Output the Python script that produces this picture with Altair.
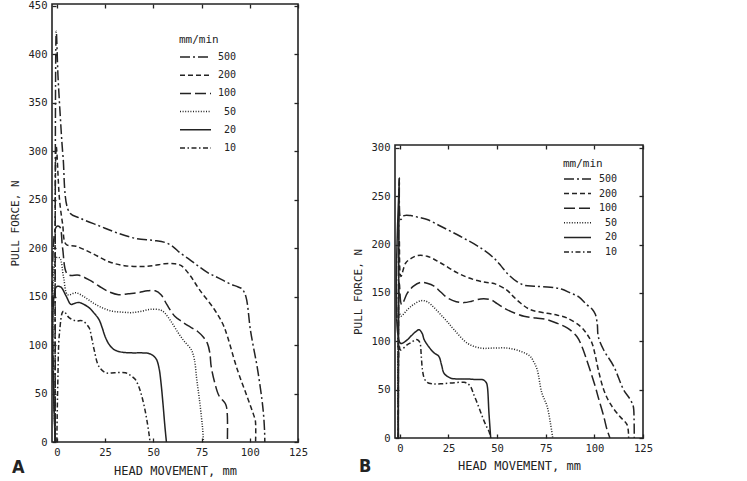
import altair as alt
import pandas as pd

speeds = ["500", "200", "100", "50", "20", "10"]
dashes = [[10, 3, 2, 3], [5, 3], [11, 4], [1, 1.6], [1, 0], [5, 2.5, 1.5, 2.5]]
x_ticks = [0, 25, 50, 75, 100, 125]
a_y_ticks = [0, 50, 100, 150, 200, 250, 300, 350, 400, 450]
b_y_ticks = [0, 50, 100, 150, 200, 250, 300]

# ---------------- Panel A ----------------
a_x = {
    "500": [-0.8, -0.3, 0.6, 1.8, 3.2, 6.5, 12, 22, 31, 41, 50, 56, 60, 64, 69, 73, 78, 82, 86, 90, 94, 96, 98, 100.3, 102, 103.8, 106.3, 107.2, 107.7, 107.8],
    "200": [-0.8, -0.3, 1.4, 3, 4.8, 10, 18, 27, 35, 44, 50, 56, 61, 64.5, 69, 74, 81.6, 86, 88.4, 93.5, 98.6, 102, 102.9, 103],
    "100": [-0.8, -0.3, 1.5, 3, 5.6, 11.6, 17, 21.8, 27, 32, 37, 42, 47, 51, 54, 57, 61, 65, 68, 73, 76, 78, 79.3, 80, 82, 84, 87.5, 88.3, 88.4],
    "50": [-0.8, -0.3, 1.5, 3.5, 5.6, 9.9, 14, 18.4, 23, 28.7, 34, 38.9, 44, 49, 54, 56, 59, 62.8, 66, 69.6, 71.3, 72.5, 73.9, 75, 75.6, 76],
    "20": [-0.8, -0.3, 2, 4.8, 7.3, 9, 11.6, 14, 16.7, 19.3, 21.8, 23.5, 25, 27, 29.5, 33, 38.9, 44, 47.4, 50, 51.7, 53, 54, 55, 56, 56.8],
    "10": [0, 0.5, 1.4, 3.4, 6.5, 10, 13.3, 16.7, 18, 19.3, 21.8, 25.3, 30, 35.5, 38, 40.6, 42.5, 44, 45.5, 46.6, 47.8, 48.3],
}
a_y = {
    "500": [0, 424, 378, 336, 295, 237, 231, 223, 216, 210, 208, 206, 202, 195, 188, 182, 175, 171, 167, 163, 160, 158, 150, 116, 97, 78, 44, 27, 10, 0],
    "200": [0, 305, 250, 225, 204, 202, 195, 186, 182, 181, 182, 184, 184, 182, 172, 157, 137, 122, 109, 75, 47, 28, 22, 0],
    "100": [0, 222, 222, 200, 173, 172, 167, 161, 155, 152, 153, 154, 156, 156, 152, 142, 130, 124, 120, 114, 108, 102, 92, 78, 60, 48, 39, 30, 0],
    "50": [0, 190, 190, 170, 152, 154, 150, 144, 139, 135, 134, 133.5, 135, 137, 136, 133, 125, 113, 104, 95.6, 85, 65, 44, 25, 13, 0],
    "20": [0, 160, 160, 150.7, 142, 143, 144, 142, 138.6, 133, 126.6, 118, 109, 101, 95.6, 93, 92, 92, 91.5, 89, 85, 76, 61, 40, 16.5, 0],
    "10": [0, 60, 113, 135, 128, 125, 125, 118, 108, 95.6, 78, 71.5, 71.5, 71.5, 69, 64.7, 57, 47.5, 35, 23.4, 8, 0],
}

# ---------------- Panel B ----------------
b_x = {
    "500": [-0.8, -0.3, 0.5, 2.2, 5.6, 10, 14, 21, 31, 41.5, 48.4, 52, 55, 60, 64, 69, 77.4, 83, 87.7, 92, 96, 99, 100.5, 101.5, 102, 104.8, 110, 115, 118.5, 120, 120.4, 120.5],
    "200": [-0.8, -0.3, 0.5, 3, 6, 9, 14, 21, 29.6, 38, 44, 48.4, 55, 58, 62, 67, 75.7, 81, 86, 92.8, 96, 98.8, 100.5, 102, 104.8, 108, 113, 116.8, 117.6],
    "100": [-0.8, -0.3, 0.9, 3.9, 7, 10.8, 14, 17.6, 21, 24.4, 29, 33, 37, 41.5, 46.7, 50, 55, 63.8, 70, 75.7, 81, 86, 91, 93.5, 96, 100.5, 102, 104.8, 106.5, 108],
    "50": [-0.8, -0.3, 0.5, 3.9, 7, 10.8, 14, 17.5, 21, 24.5, 27.9, 34.7, 41.5, 48, 55, 62, 67, 69, 70.6, 73, 75.7, 77.4, 78.6],
    "20": [-0.8, -0.3, 0.3, 3.9, 6, 8.2, 9.9, 11.5, 12.5, 15, 17.6, 20, 21.5, 22.7, 26, 30, 34.7, 39, 43, 44.5, 45, 45.8, 46.7],
    "10": [-0.8, -0.3, 0.3, 3.9, 6, 8.2, 9.5, 10.4, 11, 11.6, 12.5, 14, 17, 21, 27, 33, 35, 36.4, 38, 39.8, 41.5, 43, 44.5, 45.8, 46.7],
}
b_y = {
    "500": [0, 269, 226, 230, 230, 228, 226, 219, 208.6, 196.6, 186, 178, 170.7, 162, 158, 157, 156, 154, 150, 146, 138, 133, 128, 118, 105, 91, 74, 50, 39.6, 32.8, 20, 0],
    "200": [0, 205, 167, 181, 186, 188.6, 188, 181, 170.7, 163.8, 161, 159.7, 153, 147, 139.6, 132.8, 129, 127, 124, 115.5, 108, 98, 85, 70.7, 50, 36, 22.4, 13.8, 0],
    "100": [0, 160, 138, 150, 157, 161, 160, 157, 151, 145, 141, 140, 141.5, 143.8, 143, 139, 132.8, 125.9, 124, 122.4, 118.5, 113.8, 105, 95, 81, 53, 42, 22.4, 8.6, 0],
    "50": [0, 130, 126, 132.8, 138, 142, 141, 135, 127.6, 120, 112, 98, 93, 93, 93, 89.7, 84.5, 78, 70.7, 46.6, 32.8, 15.5, 0],
    "20": [0, 268, 98, 101.7, 106, 110, 112, 108, 101.7, 94, 88, 84.5, 75, 67, 62, 61, 61, 60.5, 60, 57, 53, 26, 0],
    "10": [0, 95, 91, 96.6, 99, 101.7, 101, 98, 85, 70.7, 62, 57.6, 56, 56, 57, 57.6, 56, 53, 45, 36, 27, 19, 12, 7, 0],
}

legend_title = "mm/min"
x_title = "HEAD MOVEMENT, mm"
y_title = "PULL FORCE, N"

INK = "#232323"
MONO = "DejaVu Sans Mono"
LETTER_FONT = "Liberation Sans Narrow, DejaVu Sans Condensed, DejaVu Sans"


def long_df(xs, ys):
    rows = []
    for s in speeds:
        for i, (xv, yv) in enumerate(zip(xs[s], ys[s])):
            rows.append({"speed": s, "i": i, "x": xv, "y": yv})
    return pd.DataFrame(rows)


dash_scale = alt.Scale(domain=speeds, range=dashes)


def panel(df, W, H, ymax, yticks, leg_range, leg_x0, leg_x1, leg_lab_x, head_x, head_y,
          letter, letter_x, letter_y, title_pad_x):
    xs = alt.Scale(domain=[-2.5, 125], nice=False, zero=False)
    ys = alt.Scale(domain=[0, ymax], nice=False)
    tick_style = dict(tickSize=4, offset=-4, domain=False, grid=False,
                      tickColor=INK, tickWidth=1.3)
    curves = alt.Chart(df).mark_line(color=INK, strokeWidth=1.5,
                                     interpolate="catmull-rom").encode(
        x=alt.X("x:Q", scale=xs,
                axis=alt.Axis(orient="bottom", values=x_ticks, title=x_title,
                              labelPadding=5, titlePadding=title_pad_x, labelFlush=False,
                              titleFontSize=12, **tick_style)),
        y=alt.Y("y:Q", scale=ys,
                axis=alt.Axis(orient="left", values=yticks, title=y_title,
                              labelPadding=5, titlePadding=8, titleFontSize=11,
                              **tick_style)),
        strokeDash=alt.StrokeDash("speed:N", scale=dash_scale, legend=None),
        order="i:Q",
    )
    mirror = alt.Chart(df).mark_line(opacity=0).encode(
        x=alt.X("x:Q", scale=xs,
                axis=alt.Axis(orient="top", values=x_ticks, title="", labels=False,
                              **tick_style)),
        y=alt.Y("y:Q", scale=ys,
                axis=alt.Axis(orient="right", values=yticks, title="", labels=False,
                              **tick_style)),
        detail="speed:N",
        order="i:Q",
    )
    leg_df = pd.DataFrame({"speed": speeds, "row": list(range(len(speeds)))})
    row_scale = alt.Scale(domain=[0, len(speeds) - 1], range=leg_range)
    rules = alt.Chart(leg_df).mark_rule(color=INK, strokeWidth=1.5).encode(
        x=alt.value(leg_x0), x2=alt.value(leg_x1),
        y=alt.Y("row:Q", scale=row_scale, axis=None),
        strokeDash=alt.StrokeDash("speed:N", scale=dash_scale, legend=None),
    )
    labels = alt.Chart(leg_df).mark_text(align="right", baseline="middle", font=MONO,
                                         fontSize=10, color=INK).encode(
        x=alt.value(leg_lab_x),
        y=alt.Y("row:Q", scale=row_scale, axis=None),
        text="speed:N",
    )
    header = alt.Chart(pd.DataFrame({"t": [legend_title]})).mark_text(
        align="left", baseline="middle", font=MONO, fontSize=11, color=INK).encode(
        x=alt.value(head_x), y=alt.value(head_y), text="t:N")
    let = alt.Chart(pd.DataFrame({"t": [letter]})).mark_text(
        align="left", baseline="alphabetic", font=LETTER_FONT, fontSize=18,
        fontWeight="bold", color=INK).encode(
        x=alt.value(letter_x), y=alt.value(letter_y), text="t:N")
    frame = alt.Chart(pd.DataFrame({"t": [0]})).mark_rect(
        filled=False, stroke=INK, strokeWidth=1.6).encode(
        x=alt.value(0), x2=alt.value(W), y=alt.value(0), y2=alt.value(H))
    return alt.layer(curves, mirror, rules, labels, header, let, frame).resolve_scale(
        y="independent").resolve_axis(x="independent", y="independent").properties(
        width=W, height=H)


panel_a = panel(long_df(a_x, a_y), 246, 438, 452, a_y_ticks, [53, 144], 128, 159, 184,
                127, 36, "A", -40, 469, 8)
panel_b = panel(long_df(b_x, b_y), 248, 293, 303, b_y_ticks, [34, 107], 169, 196, 222,
                168, 19, "B", -36, 327, 7)

spacer = alt.Chart(pd.DataFrame({"t": [""]})).mark_text().encode(text="t:N").properties(
    width=248, height=138)

chart = alt.hconcat(
    panel_a, alt.vconcat(spacer, panel_b, spacing=0), spacing=44
).properties(
    padding={"left": 9, "top": 0, "right": 5, "bottom": 5},
    background="white",
).configure_view(strokeWidth=0).configure_axis(
    labelFont=MONO, labelFontSize=10.5, labelColor=INK,
    titleFont=MONO, titleColor=INK, titleFontWeight="normal",
)

chart.save("out.html", embed_options={"renderer": "svg", "actions": False})
